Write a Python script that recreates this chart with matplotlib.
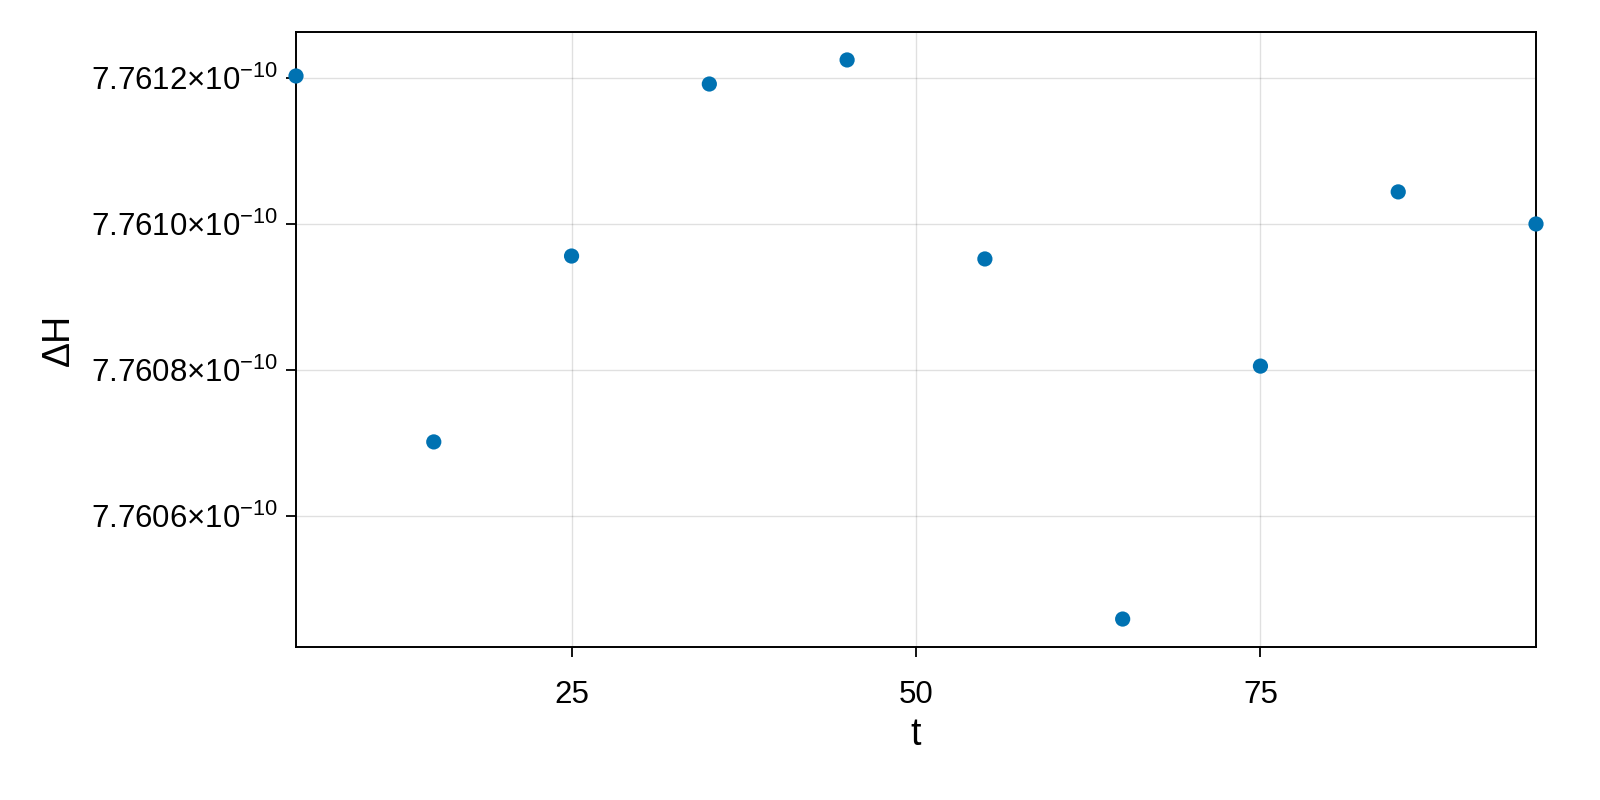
import matplotlib
matplotlib.use('Agg')
import matplotlib.pyplot as plt
from matplotlib.ticker import FuncFormatter

# data
t = [5, 15, 25, 35, 45, 55, 65, 75, 85, 95]
dH = [7.761203e-10, 7.760701e-10, 7.760956e-10, 7.761192e-10, 7.761225e-10,
      7.760952e-10, 7.760458e-10, 7.760805e-10, 7.761044e-10, 7.761000e-10]
xticks = [25, 50, 75]
yticks = [7.7606e-10, 7.7608e-10, 7.7610e-10, 7.7612e-10]

plt.rcParams['font.family'] = ['Liberation Sans', 'DejaVu Sans']
plt.rcParams['mathtext.fontset'] = 'custom'
plt.rcParams['mathtext.rm'] = 'Liberation Sans'
plt.rcParams['mathtext.it'] = 'Liberation Sans:italic'

fig = plt.figure(figsize=(16, 8), dpi=100)
ax = fig.add_axes([296 / 1600, 1 - 647 / 800, 1240 / 1600, 615 / 800])

ax.scatter(t, dH, s=120, color='#0072B2', edgecolors='none', zorder=3, clip_on=False)

lo, hi = min(dH), max(dH)
pad = 0.05 * (hi - lo)
ax.set_ylim(lo - pad, hi + pad)
ax.set_xlim(5, 95)
ax.set_xticks(xticks)
ax.set_yticks(yticks)
ax.yaxis.set_major_formatter(FuncFormatter(
    lambda v, p: r'$\mathregular{%.4f{\times}10^{-10}}$' % (v / 1e-10)))

ax.grid(True, color='black', alpha=0.12, linewidth=1.0)
ax.set_axisbelow(True)
for s in ax.spines.values():
    s.set_linewidth(1.4)
ax.tick_params(direction='out', length=7, width=1.3, labelsize=22.5)
ax.tick_params(axis='y', pad=6)
ax.tick_params(axis='x', pad=17)

ax.set_xlabel('t', fontsize=27, labelpad=5)
ax.set_ylabel('ΔH', fontsize=27, labelpad=10)

fig.savefig('out.png', dpi=100)
